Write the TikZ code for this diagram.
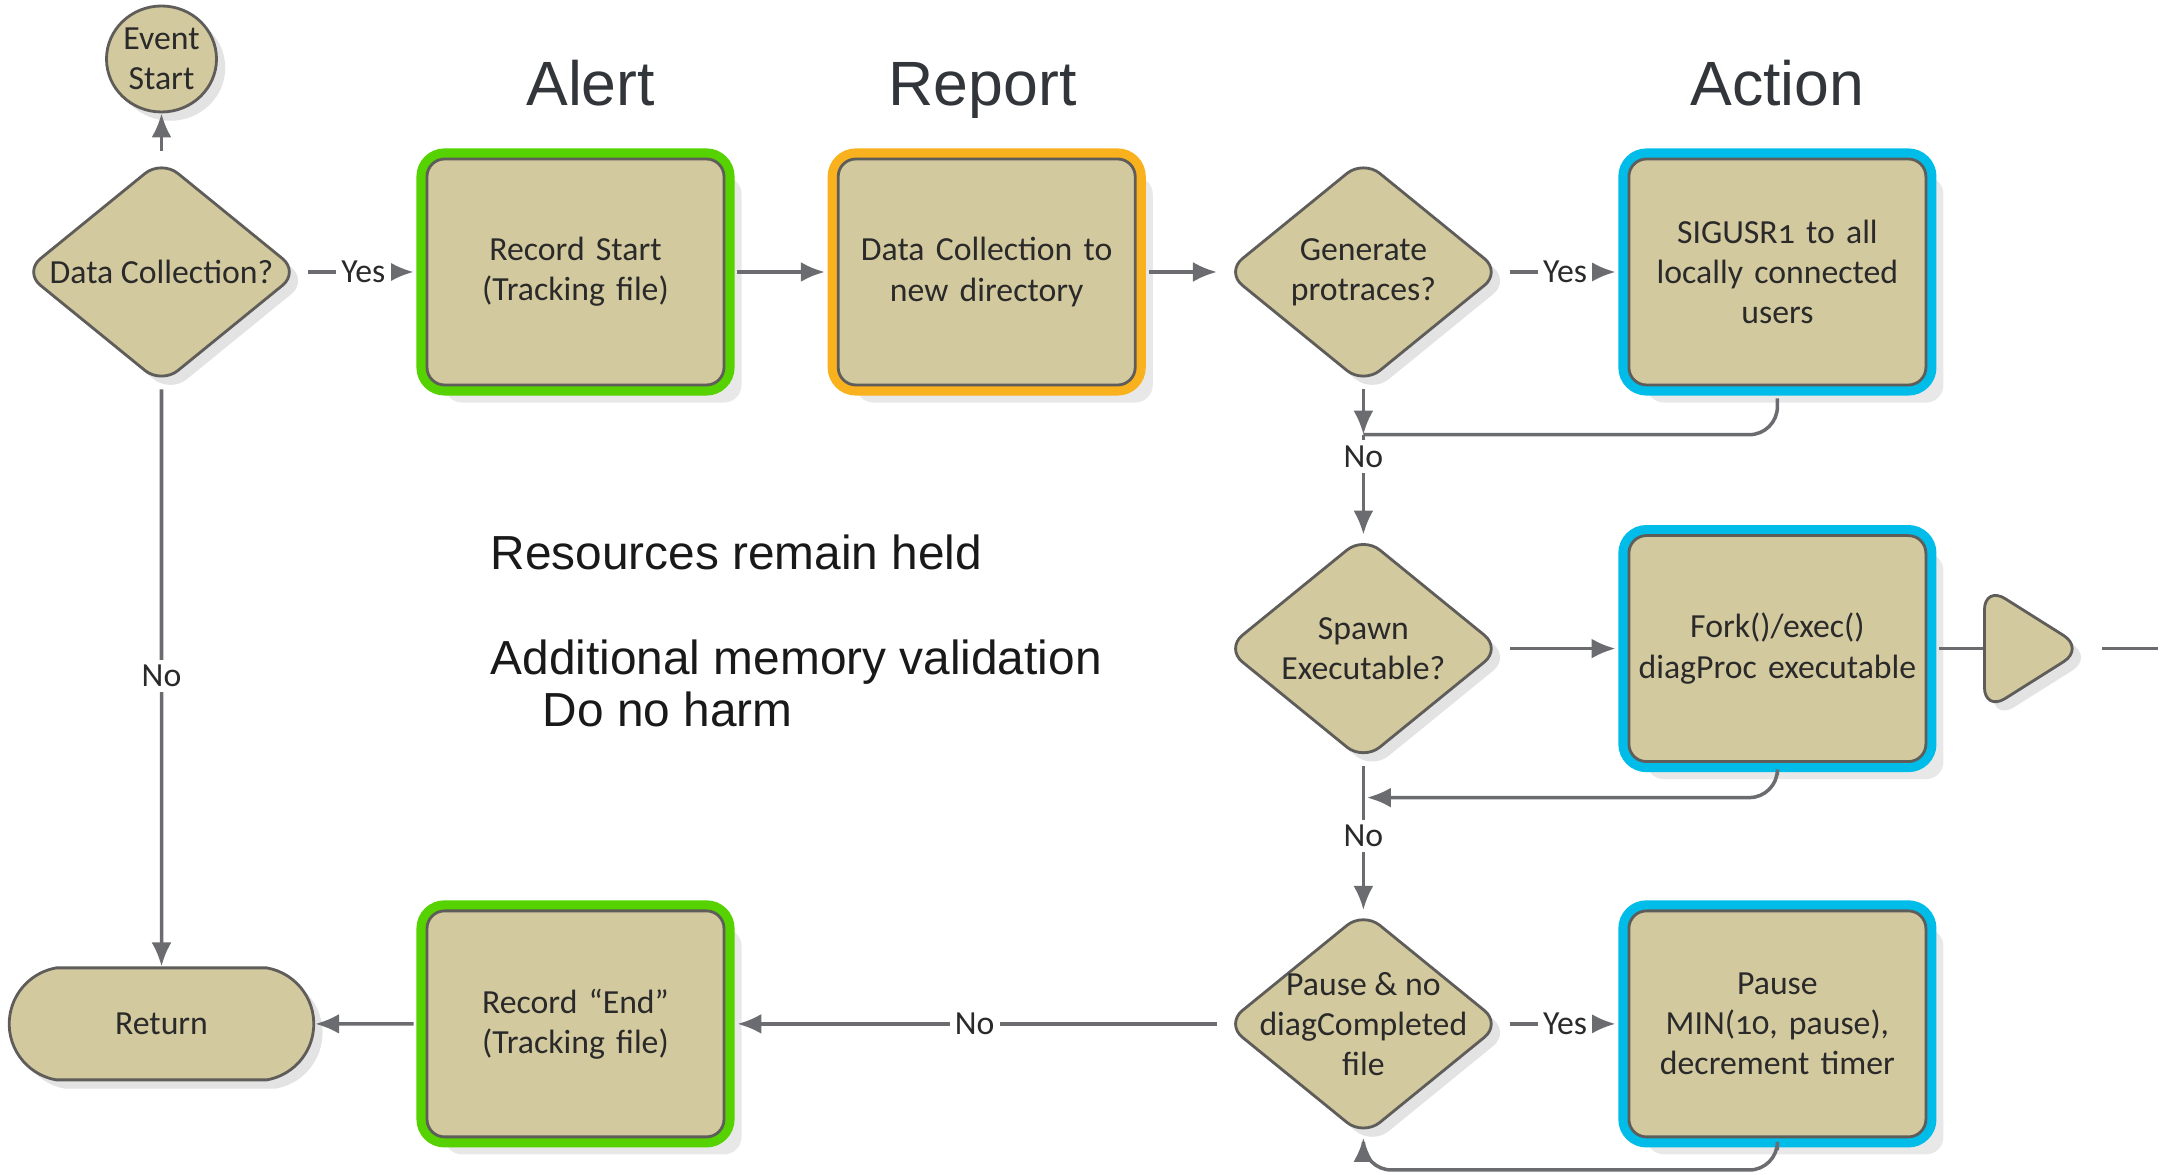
\documentclass[tikz,border=0pt]{standalone}
\usepackage{fontspec}
\setmainfont{Liberation Sans}
\newfontfamily\boxfont[Numbers=OldStyle]{Carlito}
\usetikzlibrary{arrows.meta,positioning,shapes.geometric,shapes.misc,shadows}
\definecolor{fctan}{HTML}{D3C99E}
\definecolor{fcedge}{HTML}{5E5D5A}
\definecolor{fcline}{HTML}{6B6C70}
\definecolor{fcdark}{HTML}{2A2A2A}
\definecolor{fchead}{HTML}{32363B}
\definecolor{fcgreen}{HTML}{55D200}
\definecolor{fcorange}{HTML}{F9B11E}
\definecolor{fcblue}{HTML}{00BCE9}
\tikzset{
  base/.style={draw=fcedge,fill=fctan,line width=0.8pt,align=center,text=fcdark,font=\boxfont\fontsize{9.6}{11.4}\selectfont},
  shade1/.style={drop shadow={opacity=.22,shadow xshift=2.5pt,shadow yshift=-2.5pt}},
  stepbox/.style={base,rounded corners=5pt,minimum width=2.97cm,minimum height=2.26cm,text width=2.85cm,inner sep=0pt,
    drop shadow={opacity=.18,shadow xshift=5pt,shadow yshift=-5pt}},
  alertbox/.style={stepbox,preaction={draw=fcgreen,line width=6pt}},
  reportbox/.style={stepbox,preaction={draw=fcorange,line width=6pt}},
  actionbox/.style={stepbox,preaction={draw=fcblue,line width=6pt}},
  decision/.style={base,diamond,aspect=1.23,minimum width=2.76cm,minimum height=2.25cm,inner sep=-6pt,rounded corners=6pt,shade1},
  head/.style={text=fchead,font=\fontsize{17.8}{20}\selectfont,anchor=base},
  note/.style={text=black!90,font=\fontsize{13.6}{14.9}\selectfont,align=left,inner sep=0pt,anchor=north west},
  ar/.style={-{Latex[length=2.4mm,width=2mm]},draw=fcline,line width=1pt},
  ln/.style={draw=fcline,line width=1pt},
  lbl/.style={fill=white,inner sep=1.5pt,text=fcdark,font=\boxfont\fontsize{9.6}{11.4}\selectfont},
}
\begin{document}
\begin{tikzpicture}
  \useasboundingbox (0,0) rectangle (21.64,11.75);
  % column headings
  \foreach \x/\t in {5.906/Alert,9.826/Report,17.774/Action}
    \node[head](h\t) at (\x,10.69){\t};
  % top row
  \node[base,ellipse,minimum width=1.1cm,minimum height=1.06cm,inner sep=-1pt,shade1](evt) at (1.615,11.16){Event\\Start};
  \node[decision](dc) at (1.615,9.03){Data Collection?};
  \node[alertbox](recstart) at (5.755,9.03){Record Start\\(Tracking file)};
  \node[reportbox](newdir) at (9.867,9.03){Data Collection to\\new directory};
  \node[decision](gen) at (13.634,9.03){Generate\\protraces?};
  \node[actionbox](sig) at (17.774,9.03){SIGUSR1 to all\\locally connected\\users};
  % middle row
  \node[decision](spawn) at (13.634,5.264){Spawn\\Executable?};
  \node[actionbox](fork) at (17.774,5.264){Fork()/exec()\\diagProc executable};
  \node[base,isosceles triangle,isosceles triangle stretches=true,minimum width=1.26cm,minimum height=1.0cm,inner sep=0pt,
    rounded corners=7pt,shade1,anchor=lower side](offpg) at (19.83,5.264){};
  \node[note](notes) at (4.90,6.41){Resources remain held\\[\baselineskip]Additional memory validation\\\hspace*{0.52cm}Do no harm};
  % bottom row
  \node[base,rounded rectangle,rounded rectangle arc length=160,minimum width=3.28cm,minimum height=1.12cm,shade1](ret) at (1.615,1.511){Return};
  \node[alertbox](recend) at (5.755,1.511){Record “End”\\(Tracking file)};
  \node[decision](pdiag) at (13.634,1.511){Pause \& no\\diagCompleted\\file};
  \node[actionbox](pbox) at (17.774,1.511){Pause\\MIN(10, pause),\\decrement timer};
  \coordinate (j1) at (13.634,7.403);
  \coordinate (j2) at (13.634,3.774);
  \coordinate (j3) at (13.634,0.05);
  \coordinate (cutoff) at (21.58,5.264);
  % connectors
  \draw[ar,shorten <=2pt] (dc) -- (evt);
  \draw[ar,shorten <=2pt,shorten >=3.4pt] (dc) -- node[lbl]{Yes} (recstart);
  \draw[ar,shorten <=3.4pt,shorten >=3.4pt] (recstart) -- (newdir);
  \draw[ar,shorten <=3.4pt,shorten >=2pt] (newdir) -- (gen);
  \draw[ar,shorten <=2pt,shorten >=3.4pt] (gen) -- node[lbl]{Yes} (sig);
  \draw[ar,shorten <=1pt] (gen) -- (j1);
  \draw[ar] (j1) -- node[lbl,pos=0.22]{No} (spawn);
  \draw[ln,rounded corners=8pt,shorten <=3.4pt] (sig.south) |- (j1);
  \draw[ar,shorten <=2pt,shorten >=3.4pt] (spawn) -- (fork);
  \draw[ln,shorten <=3.4pt] (fork) -- (offpg.lower side);
  \draw[ln,shorten <=4pt] (offpg.apex) -- (cutoff);
  \draw[ar,rounded corners=8pt,shorten <=3.4pt,shorten >=1pt] (fork.south) |- (j2);
  \draw[ar,shorten <=1pt] (spawn) -- node[lbl]{No} (pdiag);
  \draw[ar,shorten <=2pt,shorten >=3.4pt] (pdiag) -- node[lbl]{Yes} (pbox);
  \draw[ar,rounded corners=8pt,shorten <=3.4pt] (pbox.south) |- (j3) -- (pdiag.south);
  \draw[ar,shorten <=2pt,shorten >=3.4pt] (pdiag) -- node[lbl]{No} (recend);
  \draw[ar,shorten <=3.4pt] (recend) -- (ret);
  \draw[ar,shorten <=1pt] (dc) -- node[lbl]{No} (ret);
\end{tikzpicture}
\end{document}
